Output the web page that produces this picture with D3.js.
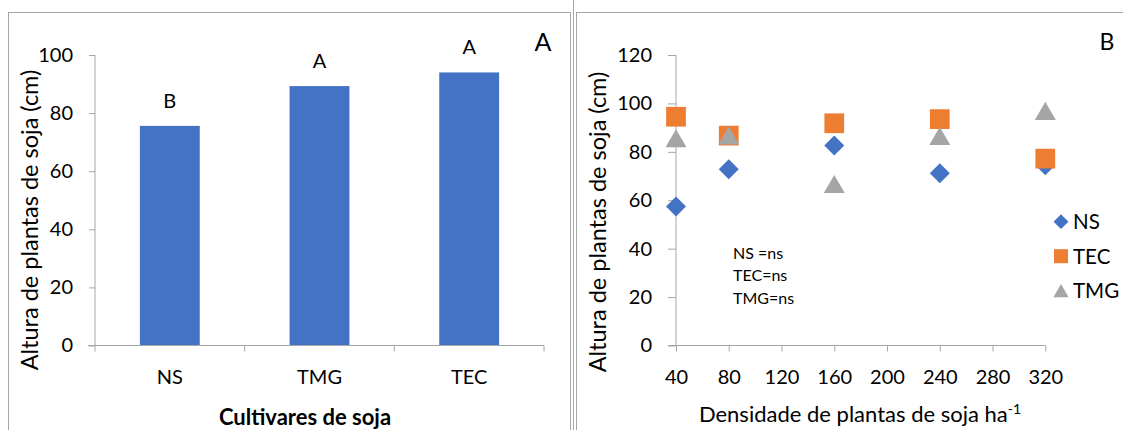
<!DOCTYPE html>
<html>
<head>
<meta charset="utf-8">
<script src="https://cdn.jsdelivr.net/npm/d3@7"></script>
<style>
  body { margin: 0; background: #fff; }
  text { font-family: Lato, 'Open Sans', sans-serif; fill: #000; }
</style>
</head>
<body>
<div id="chart"></div>
<script>
// panel A data
const cultivars = ['NS', 'TMG', 'TEC']
const heights = [75.6, 89.3, 94.0]
const letters = ['B', 'A', 'A']
const yTicksA = [0, 20, 40, 60, 80, 100]

// panel B data
const densities = [40, 80, 160, 240, 320]
const nsValues = [57.4, 72.8, 82.6, 71.2, 74.5]
const tecValues = [94.5, 86.7, 91.8, 93.5, 77.2]
const tmgValues = [85.6, 86.8, 66.7, 86.6, 96.9]
const xTicksB = [40, 80, 120, 160, 200, 240, 280, 320]
const yTicksB = [0, 20, 40, 60, 80, 100, 120]
const notes = ['NS =ns', 'TEC=ns', 'TMG=ns']

const blue = '#4472C4', orange = '#ED7D31', gray = '#A5A5A5'
const axisColor = '#A6A6A6'

let svg = d3.select('#chart')
  .append('svg')
  .attr('width', 1123)
  .attr('height', 430)

// panel borders
svg.append('rect').attr('x', 8.5).attr('y', 12.5).attr('width', 562).attr('height', 430)
  .attr('fill', 'none').attr('stroke', axisColor)
svg.append('line').attr('x1', 573.5).attr('x2', 573.5).attr('y1', 0).attr('y2', 430)
  .attr('stroke', axisColor)
svg.append('rect').attr('x', 576.5).attr('y', 12.5).attr('width', 560).attr('height', 430)
  .attr('fill', 'none').attr('stroke', axisColor)

// ---------- panel A ----------
let xA = d3.scaleBand().domain(cultivars).range([95, 544]).padding(0)
let yA = d3.scaleLinear().domain([0, 100]).range([345.5, 55])

let gA = svg.append('g')

// y axis
gA.append('g')
  .attr('transform', 'translate(95,0)')
  .call(d3.axisLeft(yA).tickValues(yTicksA).tickSize(6).tickPadding(16))
  .call(g => {
    g.selectAll('path,line').attr('stroke', axisColor)
    g.select('path').attr('d', 'M0,55V345.5')
    g.selectAll('text').style('font-size', '20px').attr('fill', '#000')
  })

// bars
gA.selectAll('rect.bar')
  .data(cultivars)
  .enter()
  .append('rect')
  .attr('class', 'bar')
  .attr('x', (d) => xA(d) + xA.bandwidth() * 0.3)
  .attr('width', xA.bandwidth() * 0.4)
  .attr('y', (d, i) => yA(heights[i]))
  .attr('height', (d, i) => yA(0) - yA(heights[i]))
  .attr('fill', blue)

// x axis
gA.append('g')
  .attr('transform', 'translate(0,' + yA(0) + ')')
  .call(d3.axisBottom(xA).tickSize(0).tickPadding(24))
  .call(g => {
    g.select('path').attr('stroke', axisColor).attr('d', 'M88,0H544')
    g.selectAll('text').style('font-size', '20px').attr('fill', '#000')
  })
// category boundary ticks
let bounds = cultivars.map((d) => xA(d)).concat([xA.range()[1]])
gA.selectAll('line.bt')
  .data(bounds)
  .enter()
  .append('line')
  .attr('x1', (d) => d).attr('x2', (d) => d)
  .attr('y1', yA(0)).attr('y2', yA(0) + 6)
  .attr('stroke', axisColor)

// significance letters
gA.selectAll('text.lbl')
  .data(cultivars)
  .enter()
  .append('text')
  .attr('x', (d) => xA(d) + xA.bandwidth() / 2)
  .attr('y', (d, i) => yA(heights[i]) - 18)
  .attr('text-anchor', 'middle')
  .style('font-size', '20px')
  .text((d, i) => letters[i])

gA.append('text')
  .attr('x', 543).attr('y', 50.5)
  .attr('text-anchor', 'middle')
  .style('font-size', '25px')
  .text('A')

gA.append('text')
  .attr('transform', 'translate(38,220) rotate(-90)')
  .attr('text-anchor', 'middle')
  .style('font-size', '23.5px')
  .text('Altura de plantas de soja (cm)')

gA.append('text')
  .attr('x', 305).attr('y', 425)
  .attr('text-anchor', 'middle')
  .style('font-size', '22px')
  .style('font-weight', 'bold')
  .text('Cultivares de soja')

// ---------- panel B ----------
let xB = d3.scaleLinear().domain([40, 320]).range([676, 1045.3])
let yB = d3.scaleLinear().domain([0, 120]).range([345.5, 55])

let gB = svg.append('g')

gB.append('g')
  .attr('transform', 'translate(676,0)')
  .call(d3.axisLeft(yB).tickValues(yTicksB).tickSize(8).tickPadding(16))
  .call(g => {
    g.selectAll('path,line').attr('stroke', axisColor)
    g.select('path').attr('d', 'M0,55V345.5')
    g.selectAll('text').style('font-size', '20px').attr('fill', '#000')
  })

gB.append('g')
  .attr('transform', 'translate(0,' + yB(0) + ')')
  .call(d3.axisBottom(xB).tickValues(xTicksB).tickSize(6).tickPadding(18))
  .call(g => {
    g.selectAll('path,line').attr('stroke', axisColor)
    g.select('path').attr('d', 'M668,0H1045.3')
    g.selectAll('text').style('font-size', '20px').attr('fill', '#000')
  })

// triangles are shifted so their bounding box (not centroid) sits on the value
let series = [
  {name: 'NS', values: nsValues, color: blue, shape: d3.symbolSquare, rot: 45, size: 200, legSize: 110, dy: 0},
  {name: 'TEC', values: tecValues, color: orange, shape: d3.symbolSquare, rot: 0, size: 390, legSize: 196, dy: 0},
  {name: 'TMG', values: tmgValues, color: gray, shape: d3.symbolTriangle, rot: 0, size: 190, legSize: 100, dy: 3}
]

series.forEach(function(s) {
  gB.selectAll(null)
    .data(densities)
    .enter()
    .append('path')
    .attr('d', d3.symbol().type(s.shape).size(s.size))
    .attr('transform', function(d, i) {
      return 'translate(' + xB(d) + ',' + (yB(s.values[i]) + s.dy) + ') rotate(' + s.rot + ')'
    })
    .attr('fill', s.color)
})

// legend
let legend = gB.selectAll('g.leg')
  .data(series)
  .enter()
  .append('g')
  .attr('transform', (d, i) => 'translate(1061,' + (221.7 + i * 34.5) + ')')

legend.append('path')
  .attr('d', (d) => d3.symbol().type(d.shape).size(d.legSize)())
  .attr('transform', (d) => 'translate(0,' + d.dy * 0.7 + ') rotate(' + d.rot + ')')
  .attr('fill', (d) => d.color)

legend.append('text')
  .attr('x', 12).attr('y', 7.5)
  .style('font-size', '20.5px')
  .text((d) => d.name)

gB.selectAll('text.note')
  .data(notes)
  .enter()
  .append('text')
  .attr('x', 733)
  .attr('y', (d, i) => 258.5 + i * 22.5)
  .style('font-size', '16px')
  .text((d) => d)

gB.append('text')
  .attr('x', 1107).attr('y', 50)
  .attr('text-anchor', 'middle')
  .style('font-size', '23px')
  .text('B')

gB.append('text')
  .attr('transform', 'translate(606,222) rotate(-90)')
  .attr('text-anchor', 'middle')
  .style('font-size', '23.5px')
  .text('Altura de plantas de soja (cm)')

let xt = gB.append('text')
  .attr('x', 860).attr('y', 422)
  .attr('text-anchor', 'middle')
  .style('font-size', '22px')
xt.append('tspan').text('Densidade de plantas de soja ha')
xt.append('tspan').attr('dy', -8).style('font-size', '14px').text('-1')
</script>
</body>
</html>
